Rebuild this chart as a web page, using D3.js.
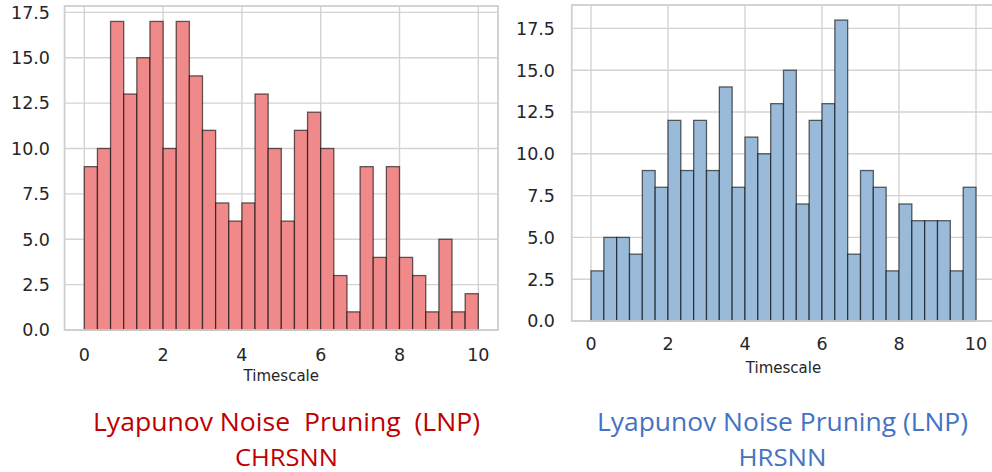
<!DOCTYPE html>
<html>
<head>
<meta charset="utf-8">
<script src="https://cdn.jsdelivr.net/npm/d3@7/dist/d3.min.js"></script>
<style>
  html, body { margin: 0; padding: 0; background: #fff; }
  svg { display: block; }
</style>
</head>
<body>
<svg id="chart" width="992" height="472"></svg>
<script>
// Histogram counts per bin: 30 equal bins spanning timescale 0..10
const binCount = 30;
const timeRange = [0, 10];
const chrsnnCounts = [9, 10, 17, 13, 15, 17, 10, 17, 14, 11, 7, 6, 7, 13, 10, 6, 11, 12, 10, 3, 1, 9, 4, 9, 4, 3, 1, 5, 1, 2];
const hrsnnCounts  = [3, 5, 5, 4, 9, 8, 12, 9, 12, 9, 14, 8, 11, 10, 13, 15, 7, 12, 13, 18, 4, 9, 8, 3, 7, 6, 6, 6, 3, 8];
const xTicks = [0, 2, 4, 6, 8, 10];
const yTicks = [0, 2.5, 5, 7.5, 10, 12.5, 15, 17.5];
const xLabel = "Timescale";
const titlesLeft = ["Lyapunov Noise\u00a0 Pruning\u00a0 (LNP)", "CHRSNN"];
const titlesRight = ["Lyapunov Noise Pruning (LNP)", "HRSNN"];

const svg = d3.select("#chart");
const binWidth = (timeRange[1] - timeRange[0]) / binCount;

function drawPanel(cfg) {
  const { counts, box, fill, xLabelY, tickLabelY, yLabelX } = cfg;
  const pad = 0.05 * (timeRange[1] - timeRange[0]);
  const x = d3.scaleLinear().domain([timeRange[0] - pad, timeRange[1] + pad]).range([box.x0, box.x1]);
  const yMax = d3.max(counts) * 1.05;
  const y = d3.scaleLinear().domain([0, yMax]).range([box.y1, box.y0]);

  const g = svg.append("g");

  // clip so the panel never spills past the page edge
  const clipId = "clip" + Math.round(box.x0);
  svg.append("defs").append("clipPath").attr("id", clipId)
    .append("rect").attr("x", box.x0 - 2).attr("y", box.y0 - 2)
    .attr("width", box.x1 - box.x0 + 4).attr("height", box.y1 - box.y0 + 4);
  const plot = g.append("g").attr("clip-path", `url(#${clipId})`);

  // grid
  plot.append("g").selectAll("line.gy").data(yTicks).join("line")
    .attr("x1", box.x0).attr("x2", box.x1)
    .attr("y1", d => y(d)).attr("y2", d => y(d))
    .attr("stroke", "#d3d3d3").attr("stroke-width", 1.4);
  plot.append("g").selectAll("line.gx").data(xTicks).join("line")
    .attr("y1", box.y0).attr("y2", box.y1)
    .attr("x1", d => x(d)).attr("x2", d => x(d))
    .attr("stroke", "#d3d3d3").attr("stroke-width", 1.4);

  // bars
  plot.append("g").selectAll("rect").data(counts).join("rect")
    .attr("x", (d, i) => x(timeRange[0] + i * binWidth))
    .attr("width", (d, i) => x(timeRange[0] + (i + 1) * binWidth) - x(timeRange[0] + i * binWidth))
    .attr("y", d => y(d))
    .attr("height", d => y(0) - y(d))
    .attr("fill", fill)
    .attr("stroke", "#000").attr("stroke-opacity", 0.6).attr("stroke-width", 1.3);

  // frame
  plot.append("rect")
    .attr("x", box.x0).attr("y", box.y0)
    .attr("width", box.x1 - box.x0).attr("height", box.y1 - box.y0)
    .attr("fill", "none").attr("stroke", "#cfcfcf").attr("stroke-width", 1.8);

  // tick labels
  const tickFont = "'DejaVu Sans', sans-serif";
  g.append("g").selectAll("text").data(yTicks).join("text")
    .attr("x", yLabelX).attr("y", d => y(d)).attr("dy", "0.36em")
    .attr("text-anchor", "end")
    .attr("font-family", tickFont).attr("font-size", cfg.tickSize)
    .attr("fill", "#262626")
    .text(d3.format(".1f"));
  g.append("g").selectAll("text").data(xTicks).join("text")
    .attr("x", d => x(d)).attr("y", tickLabelY).attr("dy", "0.36em")
    .attr("text-anchor", "middle")
    .attr("font-family", tickFont).attr("font-size", cfg.tickSize)
    .attr("fill", "#262626")
    .text(d => d);

  // axis label
  g.append("text")
    .attr("x", x((timeRange[0] + timeRange[1]) / 2)).attr("y", xLabelY).attr("dy", "0.36em")
    .attr("text-anchor", "middle")
    .attr("font-family", tickFont).attr("font-size", 15)
    .attr("fill", "#262626")
    .text(xLabel);

  // caption
  const cap = svg.append("g");
  cfg.titles.forEach((t, i) => {
    const el = cap.append("text")
      .attr("x", cfg.captionX).attr("y", cfg.captionY[i])
      .attr("text-anchor", "middle")
      .attr("font-family", "'Liberation Sans Narrow', 'Open Sans', sans-serif")
      .attr("font-size", cfg.captionSize[i])
      .attr("fill", cfg.captionColor)
      .text(t);
    if (cfg.captionWidth[i]) {
      el.attr("textLength", cfg.captionWidth[i]).attr("lengthAdjust", "spacingAndGlyphs");
    }
  });
}

drawPanel({
  counts: chrsnnCounts,
  box: { x0: 64.6, x1: 498, y0: 6, y1: 330 },
  fill: "#f08a8a",
  yLabelX: 50,
  tickLabelY: 355,
  xLabelY: 376,
  tickSize: 17.5,
  titles: titlesLeft,
  captionX: 286.5,
  captionY: [431, 465.5],
  captionSize: [25, 24],
  captionWidth: [387, 103],
  captionColor: "#c00000"
});

drawPanel({
  counts: hrsnnCounts,
  box: { x0: 571.75, x1: 995.25, y0: 5, y1: 321 },
  fill: "#99bad8",
  yLabelX: 555,
  tickLabelY: 343.5,
  xLabelY: 367.5,
  tickSize: 17.5,
  titles: titlesRight,
  captionX: 782.5,
  captionY: [431, 465.5],
  captionSize: [25, 24],
  captionWidth: [371, 88],
  captionColor: "#4472c4"
});
</script>
</body>
</html>
